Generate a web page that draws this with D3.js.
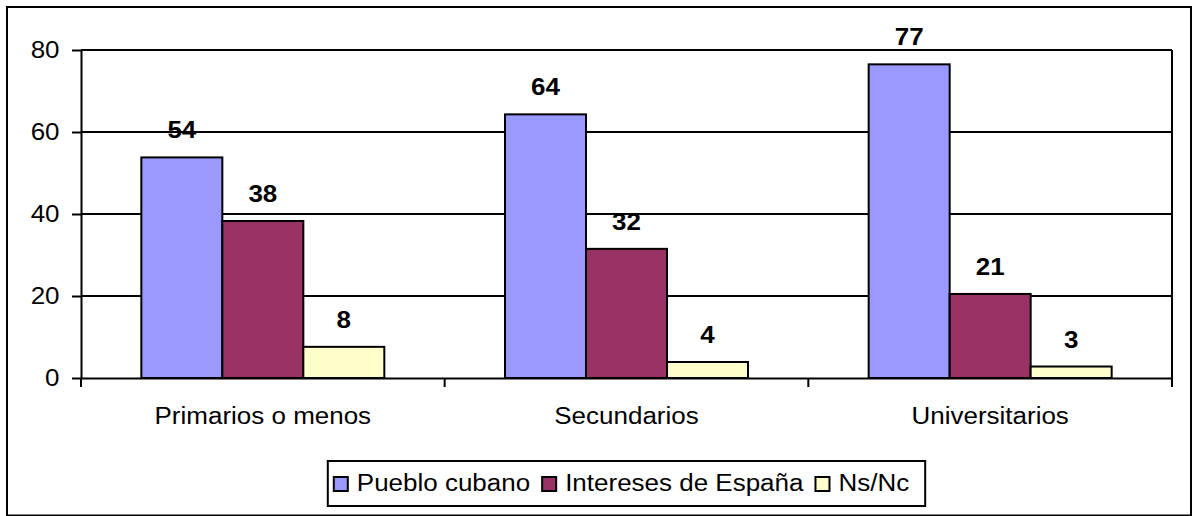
<!DOCTYPE html>
<html>
<head>
<meta charset="utf-8">
<script src="https://cdn.jsdelivr.net/npm/d3@7"></script>
<style>
body { margin: 0; background: #fff; }
svg { display: block; font-family: Arial, "Liberation Sans", sans-serif; }
</style>
</head>
<body>
<svg id="chart"></svg>
<script>
const categories = ["Primarios o menos", "Secundarios", "Universitarios"];
const series = ["Pueblo cubano", "Intereses de España", "Ns/Nc"];
const puebloCubano = [53.8, 64.3, 76.5];
const interesesEspana = [38.3, 31.5, 20.5];
const nsNc = [7.6, 3.9, 2.8];
const yTicks = [0, 20, 40, 60, 80];
const colors = ["#9999FF", "#993366", "#FFFFCC"];

const WIDTH = 1194, HEIGHT = 516;
const PLOT = { left: 81, right: 1172, top: 50, bottom: 378 };
const FONT = 23, STRETCH = 1.13;

const svg = d3.select('#chart')
    .attr('width', WIDTH)
    .attr('height', HEIGHT);

// outer frame
svg.append('rect')
    .attr('x', 7).attr('y', 7)
    .attr('width', 1184).attr('height', 508.5)
    .attr('fill', '#fff')
    .attr('stroke', '#000')
    .attr('stroke-width', 2);

//SCALES
const x0 = d3.scaleBand().domain(categories).range([PLOT.left, PLOT.right]);
const x1 = d3.scaleBand().domain(series).range([0, x0.bandwidth()]).paddingOuter(0.745);
const y = d3.scaleLinear().domain([0, 80]).range([PLOT.bottom, PLOT.top]);

//GRIDLINES
svg.append('g')
    .selectAll('line')
    .data(yTicks.filter(d => d > 0))
    .join('line')
    .attr('x1', PLOT.left).attr('x2', PLOT.right)
    .attr('y1', d => y(d)).attr('y2', d => y(d))
    .attr('stroke', '#000')
    .attr('stroke-width', 2);

svg.append('line')
    .attr('x1', PLOT.right).attr('x2', PLOT.right)
    .attr('y1', y(80)).attr('y2', y(0))
    .attr('stroke', '#000')
    .attr('stroke-width', 2);

//BARS
const rows = categories.map((c, i) => ({
    cat: c,
    values: [puebloCubano[i], interesesEspana[i], nsNc[i]].map((v, j) => ({ s: series[j], v: v, j: j }))
}));

const groups = svg.append('g')
    .selectAll('g')
    .data(rows)
    .join('g')
    .attr('transform', d => `translate(${x0(d.cat)},0)`);

groups.selectAll('rect')
    .data(d => d.values)
    .join('rect')
    .attr('x', d => x1(d.s))
    .attr('width', x1.bandwidth())
    .attr('y', d => y(d.v))
    .attr('height', d => y(0) - y(d.v))
    .attr('fill', d => colors[d.j])
    .attr('stroke', '#000')
    .attr('stroke-width', 2);

//LABELS
groups.selectAll('text')
    .data(d => d.values)
    .join('text')
    .attr('transform', d => `translate(${x1(d.s) + x1.bandwidth() / 2},${y(d.v) - 19}) scale(${STRETCH},1)`)
    .attr('text-anchor', 'middle')
    .attr('font-weight', 'bold')
    .attr('font-size', FONT)
    .text(d => d3.format('.0f')(d.v));

//Y AXIS
const yAxis = svg.append('g')
    .attr('transform', `translate(${PLOT.left},0)`)
    .call(d3.axisLeft(y).tickValues(yTicks).tickSize(9).tickPadding(10).tickSizeOuter(0))
    .attr('font-family', null)
    .attr('font-size', FONT);
yAxis.select('.domain').attr('stroke', '#000').attr('stroke-width', 2);
yAxis.selectAll('.tick line').attr('stroke', '#000').attr('stroke-width', 2);
yAxis.selectAll('.tick text').attr('fill', '#000').attr('transform', `scale(${STRETCH},1)`);

//X AXIS
const xAxis = svg.append('g')
    .attr('transform', `translate(0,${y(0)})`)
    .call(d3.axisBottom(x0).tickSize(0).tickPadding(30).tickSizeOuter(0))
    .attr('font-family', null)
    .attr('font-size', FONT);
xAxis.select('.domain').attr('stroke', '#000').attr('stroke-width', 2);
xAxis.selectAll('.tick text').attr('fill', '#000').attr('transform', `scale(${STRETCH},1)`);

xAxis.append('g')
    .selectAll('line')
    .data(categories.map(c => x0(c)).concat([PLOT.right]))
    .join('line')
    .attr('x1', d => d).attr('x2', d => d)
    .attr('y1', 0).attr('y2', 9)
    .attr('stroke', '#000')
    .attr('stroke-width', 2);

//LEGEND
const legend = svg.append('g');
const legendBox = legend.append('rect')
    .attr('fill', '#fff')
    .attr('stroke', '#000')
    .attr('stroke-width', 2);

let cursor = 6;
series.forEach((s, i) => {
    const item = legend.append('g').attr('transform', `translate(${cursor},0)`);
    item.append('rect')
        .attr('x', 0).attr('y', 16)
        .attr('width', 14).attr('height', 14)
        .attr('fill', colors[i])
        .attr('stroke', '#000')
        .attr('stroke-width', 2);
    const t = item.append('text')
        .attr('transform', `translate(23,30) scale(${STRETCH},1)`)
        .attr('font-size', FONT)
        .text(s);
    cursor += 23 + t.node().getComputedTextLength() * STRETCH + (i < series.length - 1 ? 12 : 16);
});

legendBox.attr('x', 0).attr('y', 0).attr('width', cursor).attr('height', 45);
legend.attr('transform', `translate(${(PLOT.left + PLOT.right) / 2 - cursor / 2},461)`);
</script>
</body>
</html>
